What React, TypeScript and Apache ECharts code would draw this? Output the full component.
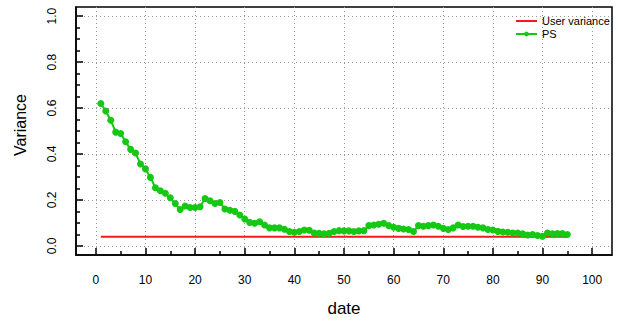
import React, { useEffect, useRef } from "react";
import * as echarts from "echarts";

const dates: number[] = Array.from({ length: 95 }, (_, i) => i + 1);
const psValues: number[] = [
  0.620, 0.587, 0.547, 0.495, 0.489, 0.453, 0.420, 0.404, 0.356, 0.335,
  0.298, 0.253, 0.240, 0.229, 0.209, 0.184, 0.158, 0.173, 0.167, 0.167,
  0.170, 0.206, 0.196, 0.184, 0.189, 0.160, 0.155, 0.150, 0.134, 0.117,
  0.102, 0.098, 0.105, 0.091, 0.078, 0.078, 0.078, 0.072, 0.062, 0.059,
  0.062, 0.069, 0.068, 0.056, 0.055, 0.052, 0.055, 0.062, 0.066, 0.065,
  0.065, 0.062, 0.065, 0.066, 0.088, 0.091, 0.094, 0.098, 0.088, 0.081,
  0.076, 0.073, 0.071, 0.062, 0.088, 0.085, 0.088, 0.091, 0.085, 0.076,
  0.071, 0.078, 0.091, 0.084, 0.085, 0.085, 0.081, 0.078, 0.071, 0.069,
  0.063, 0.060, 0.059, 0.056, 0.056, 0.052, 0.047, 0.049, 0.045, 0.042,
  0.056, 0.052, 0.053, 0.053, 0.049,
];
const userVariance = 0.039;
const userStart = 1;
const userEnd = 95;

const xTicks: number[] = [0, 10, 20, 30, 40, 50, 60, 70, 80, 90, 100];
const xMinorTicks: number[] = [5, 15, 25, 35, 45, 55, 65, 75, 85, 95];
const yTicks: number[] = [0, 0.2, 0.4, 0.6, 0.8, 1.0];
const yMinorTicks: number[] = [
  0.05, 0.1, 0.15, 0.25, 0.3, 0.35, 0.45, 0.5, 0.55, 0.65, 0.7, 0.75, 0.85, 0.9, 0.95,
];

const FONT = "'Liberation Sans', Arial, Helvetica, sans-serif";
const GREEN = "#14c814";
const RED = "#ee1c1c";

export default function App() {
  const ref = useRef<HTMLDivElement>(null);
  useEffect(() => {
    if (!ref.current) return;
    const chart = echarts.init(ref.current, undefined, { renderer: "svg" });
    const gridLine = { show: true, lineStyle: { color: "#9a9a9a", width: 1, type: [1, 3] as any } };
    chart.setOption({
      animation: false,
      textStyle: { fontFamily: FONT },
      grid: {
        left: 76, right: 8, top: 7, bottom: 64,
        show: true, borderColor: "#000", borderWidth: 1.5, backgroundColor: "transparent",
      },
      graphic: [
        {
          type: "text",
          x: 20,
          y: 125,
          rotation: Math.PI / 2,
          style: {
            text: "Variance",
            fontSize: 16,
            fontFamily: FONT,
            fill: "#000",
            textAlign: "center",
            textVerticalAlign: "middle",
          },
        },
      ],
      legend: {
        data: [
          { name: "User variance", itemStyle: { color: "rgba(0,0,0,0)", borderWidth: 0 } },
          { name: "PS" },
        ],
        orient: "vertical",
        left: 510,
        top: 10,
        itemWidth: 21,
        itemHeight: 6,
        itemGap: 1,
        textStyle: { fontSize: 11, lineHeight: 12, color: "#000", fontFamily: FONT },
      },
      xAxis: [
        {
          type: "value", min: -4, max: 104,
          name: "date", nameLocation: "middle", nameGap: 45,
          nameTextStyle: { fontSize: 17, color: "#000", fontFamily: FONT },
          axisLine: { show: true, onZero: false, lineStyle: { color: "#000", width: 1.5 } },
          axisTick: { show: true, inside: true, length: 7, customValues: xTicks, lineStyle: { color: "#000", width: 1.5 } },
          axisLabel: { show: true, customValues: xTicks, margin: 19, fontSize: 12, color: "#000", fontFamily: FONT },
          splitLine: gridLine,
        },
        {
          type: "value", min: -4, max: 104, position: "bottom",
          axisLine: { show: false, onZero: false },
          axisTick: { show: true, inside: true, length: 4, customValues: xMinorTicks, lineStyle: { color: "#000", width: 1.5 } },
          axisLabel: { show: false },
          splitLine: { show: false },
        },
      ],
      yAxis: [
        {
          type: "value", min: -0.04, max: 1.04,
          axisLine: { show: true, onZero: false, lineStyle: { color: "#000", width: 1.5 } },
          axisTick: { show: true, inside: true, length: 7, customValues: yTicks, lineStyle: { color: "#000", width: 1.5 } },
          axisLabel: {
            show: true, customValues: yTicks, margin: 18, rotate: 90, fontSize: 12, color: "#000", fontFamily: FONT,
            formatter: (v: number) => v.toFixed(1),
          },
          splitLine: gridLine,
        },
        {
          type: "value", min: -0.04, max: 1.04, position: "left",
          axisLine: { show: false, onZero: false },
          axisTick: { show: true, inside: true, length: 4, customValues: yMinorTicks, lineStyle: { color: "#000", width: 1.5 } },
          axisLabel: { show: false },
          splitLine: { show: false },
        },
      ],
      series: [
        {
          name: "User variance",
          type: "line",
          symbol: "none",
          data: [[userStart, userVariance], [userEnd, userVariance]],
          lineStyle: { color: RED, width: 2 },
          itemStyle: { color: RED },
          z: 3,
        },
        {
          name: "PS",
          type: "line",
          symbol: "circle",
          symbolSize: 7,
          showAllSymbol: true,
          data: dates.map((d, i) => [d, psValues[i]]),
          lineStyle: { color: GREEN, width: 2 },
          itemStyle: { color: GREEN },
          z: 4,
        },
      ],
    });
    return () => chart.dispose();
  }, []);
  return <div ref={ref} style={{ width: 620, height: 322, position: "absolute", left: 0, top: 0 }} />;
}
